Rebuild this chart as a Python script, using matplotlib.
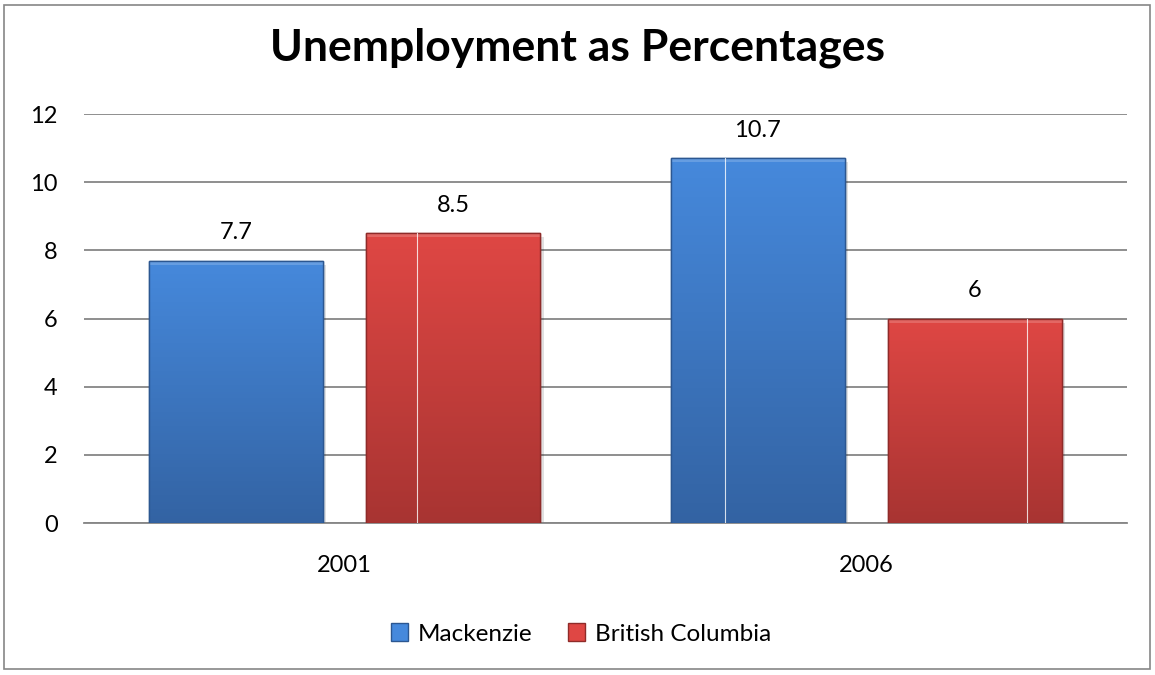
import numpy as np
import matplotlib
matplotlib.use("Agg")
import matplotlib.pyplot as plt
from matplotlib.patches import Rectangle
from matplotlib.colors import LinearSegmentedColormap

plt.rcParams['font.family'] = ['Lato', 'DejaVu Sans']

categories = ["2001", "2006"]
series_names = ["Mackenzie", "British Columbia"]
mackenzie = [7.7, 10.7]
british_columbia = [8.5, 6]
yticks = [0, 2, 4, 6, 8, 10, 12]
title = "Unemployment as Percentages"

top_colors = ["#4689dc", "#df4744"]
bot_colors = ["#3363a3", "#a83432"]
edge_colors = ["#2c5791", "#8f2b29"]

fig = plt.figure(figsize=(11.55, 6.75), dpi=100)
fig.patches.append(Rectangle((4/1155, 6/675), 1146/1155, 664/675, transform=fig.transFigure,
                             fill=False, edgecolor="#868686", linewidth=1.2))
ax = fig.add_axes([84/1155, 1-523/675, (1127-84)/1155, (523-114)/675])

bar_w = 0.334
gap = 0.0825
x = np.arange(len(categories))
offsets = [-(bar_w + gap)/2, (bar_w + gap)/2]
allvals = [mackenzie, british_columbia]

grad = np.linspace(0, 1, 256).reshape(-1, 1)
for si, vals in enumerate(allvals):
    cmap = LinearSegmentedColormap.from_list("g%d" % si, [bot_colors[si], top_colors[si]])
    bars = ax.bar(x + offsets[si], vals, width=bar_w, color=top_colors[si],
                  edgecolor=edge_colors[si], linewidth=1.0, zorder=3)
    for b, v in zip(bars, vals):
        bx, bw = b.get_x(), b.get_width()
        # soft shadow
        ax.add_patch(Rectangle((bx + 0.006, -0.12), bw, v, facecolor="#000000", alpha=0.12,
                               edgecolor="none", zorder=2.5))
        im = ax.imshow(grad, extent=[bx, bx + bw, 0, v], origin="lower", cmap=cmap,
                       aspect="auto", zorder=3.1, interpolation="bilinear")
        im.set_clip_path(b)
        # top highlight
        ax.add_patch(Rectangle((bx, v - 0.12), bw, 0.12, facecolor="white", alpha=0.18,
                               edgecolor="none", zorder=3.2))
        ax.add_patch(Rectangle((bx, v), bw, -v, fill=False, edgecolor=edge_colors[si],
                               linewidth=1.0, zorder=3.3))
        ax.text(bx + bw/2, v + 0.52, f"{v:g}", ha="center", va="bottom", fontsize=17,
                color="#000000", zorder=4)

# faint white artefact lines inside bars
art = [(1, 0, 0.29), (0, 1, 0.31), (1, 1, 0.80)]
for si, ci, frac in art:
    vals = allvals[si]
    bx = x[ci] + offsets[si] - bar_w/2 + frac*bar_w
    ax.plot([bx, bx], [0, vals[ci]], color="white", linewidth=0.8, alpha=0.8, zorder=3.4)

ax.set_xlim(-0.5, 1.5)
ax.set_ylim(0, 12)
ax.set_yticks(yticks)
ax.set_yticklabels([str(t) for t in yticks])
ax.set_xticks(x)
ax.set_xticklabels(categories)
ax.yaxis.grid(True, color="#868686", linewidth=1.3, zorder=0)
ax.set_axisbelow(True)
for s in ["top", "right", "left"]:
    ax.spines[s].set_visible(False)
ax.spines["bottom"].set_color("#868686")
ax.spines["bottom"].set_linewidth(1.3)
ax.tick_params(axis="y", length=0, pad=19, labelsize=17)
ax.tick_params(axis="x", length=0, pad=23, labelsize=17)

fig.text(0.5, 1-48/675, title, ha="center", va="center", fontsize=32, fontweight="bold")

# legend
handles = [Rectangle((0, 0), 1, 1, facecolor=top_colors[i], edgecolor=edge_colors[i]) for i in range(2)]
fig.legend(handles, series_names, loc="center", bbox_to_anchor=(581/1155, 1-634/675), ncol=2,
           frameon=False, fontsize=17.5, handlelength=0.7, handleheight=0.7,
           handletextpad=0.4, columnspacing=1.5)

fig.savefig("out.png", dpi=100, facecolor="white")
